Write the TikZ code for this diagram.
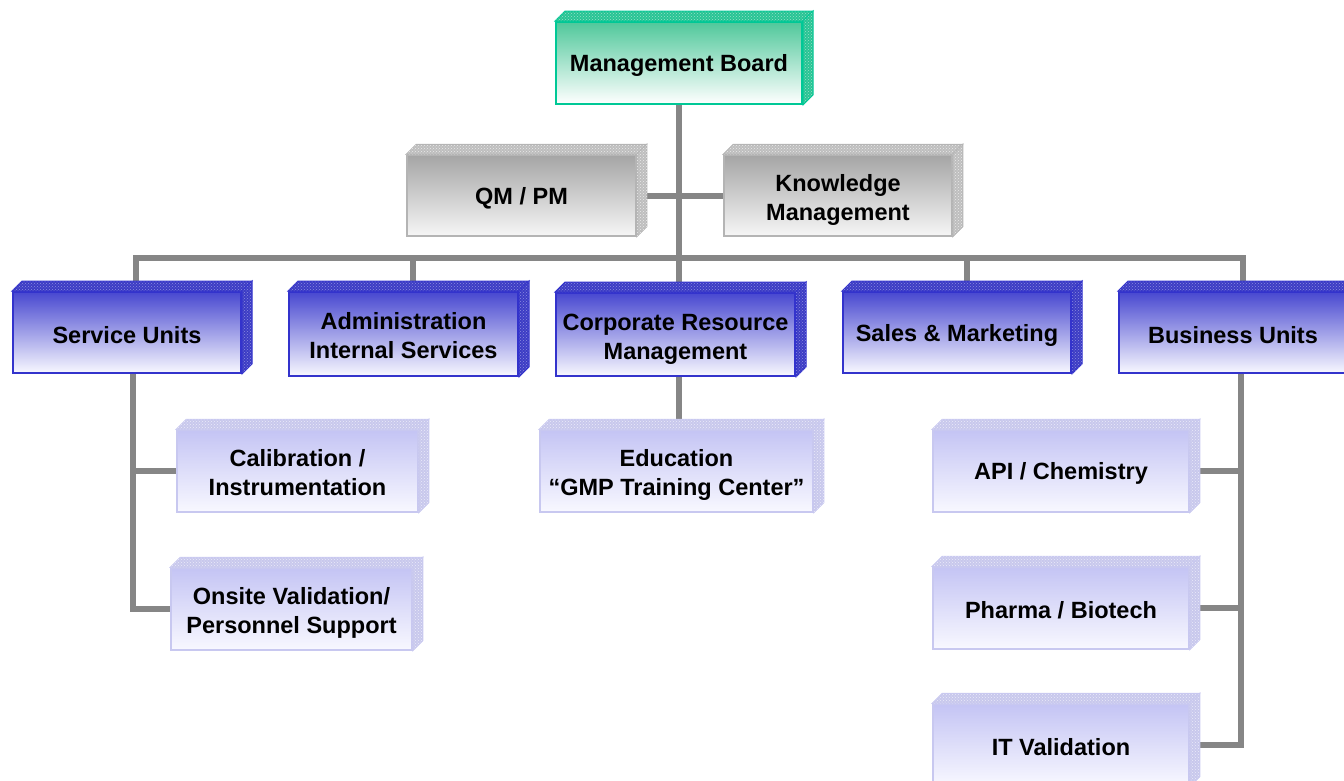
\documentclass[tikz,border=0pt]{standalone}
\usepackage{fontspec}
\setmainfont{Liberation Sans}
\usepackage{xcolor}
\usepackage{tikz}
\usetikzlibrary{patterns}

\definecolor{boardline}{RGB}{0,200,150}
\definecolor{boardtop}{RGB}{80,200,155}
\definecolor{boardside}{RGB}{40,196,148}
\definecolor{boarddot}{RGB}{150,225,200}
\definecolor{staffline}{RGB}{180,180,180}
\definecolor{stafftop}{RGB}{165,165,165}
\definecolor{staffbot}{RGB}{246,246,246}
\definecolor{staffside}{RGB}{190,190,190}
\definecolor{staffdot}{RGB}{235,235,235}
\definecolor{unitline}{RGB}{51,51,204}
\definecolor{unittop}{RGB}{72,72,208}
\definecolor{unitbot}{RGB}{248,248,255}
\definecolor{unitside}{RGB}{60,60,196}
\definecolor{unitdot}{RGB}{140,140,225}
\definecolor{subline}{RGB}{200,200,240}
\definecolor{subtop}{RGB}{196,196,244}
\definecolor{subbot}{RGB}{248,248,255}
\definecolor{subside}{RGB}{200,200,236}
\definecolor{subdot}{RGB}{235,235,250}
\definecolor{linkgray}{RGB}{134,134,134}

\newcommand{\boxfont}{\fontsize{23.5}{29}\selectfont\bfseries}

\begin{document}
\begin{tikzpicture}[x=1pt,y=-1pt,
    box/.style={draw, line width=1.5, minimum height=81, inner sep=2, align=center, font=\boxfont,
      execute at begin node={\rule{0pt}{22pt}}},
    twoline/.style={text height=49, text depth=0},
    board/.style={box, draw=boardline, line width=2, top color=boardtop, bottom color=white},
    staff/.style={box, draw=staffline, top color=stafftop, bottom color=staffbot},
    unit/.style={box, draw=unitline, line width=2, top color=unittop, bottom color=unitbot},
    sub/.style={box, draw=subline, minimum height=82, top color=subtop, bottom color=subbot},
    face/.style={fill=#1side, draw=#1line, line width=1,
      postaction={pattern=crosshatch dots, pattern color=#1dot}},
    link/.style={draw=linkgray, line width=6}]
  \clip (0,0) rectangle (1344,780);

  % board and staff
  \node[board, minimum width=246, minimum height=82] (mb) at (679,63) {Management Board};
  \node[staff, minimum width=229] (qm) at (521.5,195.5) {QM / PM};
  \node[staff, twoline, minimum width=228] (km) at (838,195.5) {Knowledge\\Management};

  % departments
  \node[unit, minimum width=228] (su) at (127,332.5) {Service Units};
  \node[unit, twoline, minimum width=229, minimum height=84] (adm) at (403.5,334) {Administration\\Internal Services};
  \node[unit, twoline, minimum width=239, minimum height=83] (crm) at (675.5,334.5) {Corporate Resource\\Management};
  \node[unit, minimum width=228] (sm) at (957,332.5) {Sales \& Marketing};
  \node[unit, minimum width=228] (bu) at (1233,332.5) {Business Units};

  % sub units
  \node[sub, twoline, minimum width=241] (cal) at (297.5,471) {Calibration /\\Instrumentation};
  \node[sub, twoline, minimum width=241] (ons) at (291.5,609) {Onsite Validation/\\Personnel Support};
  \node[sub, twoline, minimum width=273] (edu) at (676.5,471) {Education\\``GMP Training Center''};
  \node[sub, minimum width=256] (api) at (1061,471) {API / Chemistry};
  \node[sub, minimum width=256] (pha) at (1061,608) {Pharma / Biotech};
  \node[sub, minimum width=256] (itv) at (1061,745) {IT Validation};

  % bus and junctions
  \coordinate (busL) at (136,258);
  \coordinate (busR) at (1243,258);
  \coordinate (j2) at (413,258);
  \coordinate (j3) at (679,258);
  \coordinate (j4) at (967,258);
  \coordinate (suv) at (132.5,380);
  \coordinate (buv) at (1241,380);

  \draw[link] (mb.south) -- (j3);
  \draw[link] (qm.east) -- (km.west);
  \draw[link, line join=miter] (busL |- su.north) -- (busL) -- (busR) -- (busR |- bu.north);
  \draw[link] (j2) -- (j2 |- adm.north);
  \draw[link] (j3) -- (j3 |- crm.north);
  \draw[link] (j4) -- (j4 |- sm.north);
  \draw[link] (crm.south -| j3) -- (j3 |- edu.north);

  \draw[link, line join=miter] (su.south -| suv) |- (ons.west);
  \draw[link] (suv |- cal.west) -- (cal.west);

  \draw[link, line join=miter] (bu.south -| buv) |- (itv.east);
  \draw[link] (api.east) -- (api.east -| buv);
  \draw[link] (pha.east) -- (pha.east -| buv);

  % 3d top and side faces
  \foreach \n/\k in {mb/board,qm/staff,km/staff,su/unit,adm/unit,crm/unit,sm/unit,bu/unit,
      cal/sub,ons/sub,edu/sub,api/sub,pha/sub,itv/sub}{
    \filldraw[face=\k] (\n.north west) -- ++(10,-10)
      -- ([shift={(10,-10)}]\n.north east) -- (\n.north east) -- cycle;
    \filldraw[face=\k] (\n.north east) -- ++(10,-10)
      -- ([shift={(10,-10)}]\n.south east) -- (\n.south east) -- cycle;
  }
\end{tikzpicture}
\end{document}
